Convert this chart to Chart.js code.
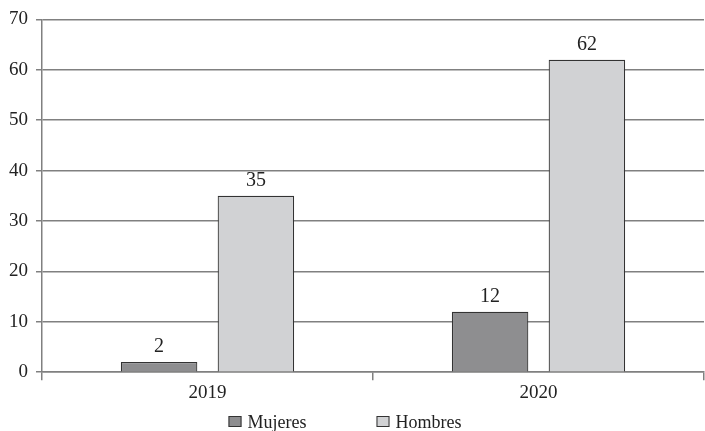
<!DOCTYPE html>
<html>
<head>
<meta charset="utf-8">
<script src="https://cdn.jsdelivr.net/npm/chart.js@4"></script>
<style>
    html, body { margin: 0; padding: 0; background: #ffffff; }
    #wrap { width: 705px; height: 431px; }
</style>
</head>
<body>
<div id="wrap"><canvas id="chart_Genero"></canvas></div>
<script>
// categories and series
const years = ["2019", "2020"];
const mujeres = [2, 12];
const hombres = [35, 62];

const SERIF = '"Liberation Serif", "DejaVu Serif", serif';

// value labels drawn over each bar
const barLabels = {
    id: "barLabels",
    afterDatasetsDraw(chart) {
        const c = chart.ctx;
        c.save();
        c.font = "20px " + SERIF;
        c.fillStyle = "#222222";
        c.textAlign = "center";
        c.textBaseline = "alphabetic";
        chart.data.datasets.forEach((ds, i) => {
            chart.getDatasetMeta(i).data.forEach((bar, j) => {
                c.fillText(ds.data[j], bar.x, bar.y - 10);
            });
        });
        c.restore();
    },
};

// legend under the axis, items spread wide like the original
const bottomLegend = {
    id: "bottomLegend",
    afterDraw(chart) {
        const c = chart.ctx;
        const mid = chart.width / 2;
        const starts = [mid - 124, mid + 24]; // box left edge of each item
        const base = chart.height - 3;
        c.save();
        c.font = "18px " + SERIF;
        c.textBaseline = "alphabetic";
        c.textAlign = "left";
        chart.data.datasets.forEach((ds, i) => {
            const x = starts[i];
            c.fillStyle = ds.backgroundColor;
            c.fillRect(x, base - 12, 13, 11);
            c.strokeStyle = "#333333";
            c.lineWidth = 1;
            c.strokeRect(x + 0.5, base - 11.5, 12, 10);
            c.fillStyle = "#222222";
            c.fillText(ds.label, x + 19, base);
        });
        c.restore();
    },
};

Chart.defaults.font.family = SERIF;
Chart.defaults.font.size = 19;
Chart.defaults.color = "#222222";

const ctx = document.getElementById("chart_Genero").getContext("2d");
const chart_Genero = new Chart(ctx, {
    type: "bar",
    data: {
        labels: years,
        datasets: [
            {
                label: "Mujeres",
                data: mujeres,
                backgroundColor: "#8e8e90",
                borderColor: "#333333",
                borderWidth: 1.2,
            },
            {
                label: "Hombres",
                data: hombres,
                backgroundColor: "#d1d2d4",
                borderColor: "#333333",
                borderWidth: 1.2,
            },
        ],
    },
    options: {
        responsive: true,
        maintainAspectRatio: false,
        animation: false,
        datasets: {
            bar: {
                categoryPercentage: 0.585,
                barPercentage: 0.79,
            },
        },
        layout: {
            padding: { top: 7, right: 1, left: 1, bottom: 26 },
        },
        plugins: {
            legend: { display: false },
            tooltip: { enabled: false },
        },
        scales: {
            x: {
                offset: true,
                grid: {
                    offset: true,
                    drawOnChartArea: false,
                    drawTicks: true,
                    tickLength: 8,
                    color: "#808080",
                    lineWidth: 1.5,
                },
                border: { color: "#808080", width: 1.5 },
                ticks: { padding: 1, font: { size: 19 } },
            },
            y: {
                min: 0,
                max: 70,
                ticks: { stepSize: 10, padding: 8, font: { size: 19 } },
                grid: {
                    color: "#808080",
                    lineWidth: 1.5,
                    tickLength: 6,
                },
                border: { color: "#808080", width: 1.5 },
            },
        },
    },
    plugins: [barLabels, bottomLegend],
});
</script>
</body>
</html>
